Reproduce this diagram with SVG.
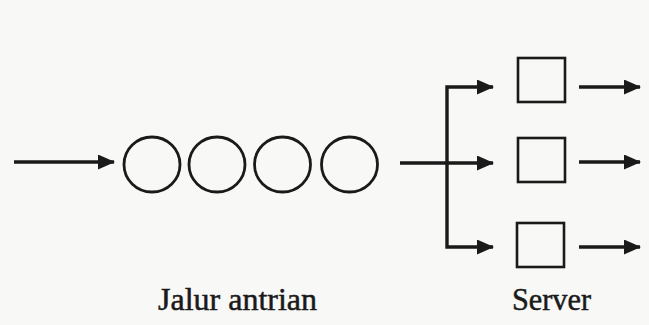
<svg xmlns="http://www.w3.org/2000/svg" width="649" height="325" viewBox="0 0 649 325">
<defs>
<style>
.bg{fill:#f8f8f7}
.q{fill:none;stroke:#1a1a1a;stroke-width:2.8}
.s{fill:none;stroke:#1a1a1a;stroke-width:2.6}
.c{fill:none;stroke:#1a1a1a;stroke-width:3.4}
.t{fill:#1a1a1a;stroke:#1a1a1a;stroke-width:0.5}
</style>
<marker id="ah" markerUnits="userSpaceOnUse" markerWidth="17" markerHeight="15" refX="16" refY="7.5" orient="auto" viewBox="0 0 17 15">
<path d="M0,0 L17,7.5 L0,15 z" fill="#1a1a1a"/>
</marker>
</defs>
<rect class="bg" x="0" y="0" width="649" height="325"/>
<g id="queue">
<ellipse id="q1" class="q" cx="152" cy="164.5" rx="28" ry="27.5"/>
<ellipse id="q2" class="q" cx="217" cy="164.5" rx="28" ry="27.5"/>
<ellipse id="q3" class="q" cx="282.5" cy="164.5" rx="28" ry="27.5"/>
<ellipse id="q4" class="q" cx="349.5" cy="164.5" rx="28" ry="27.5"/>
</g>
<g id="server1"><rect class="s" x="518" y="58" width="47" height="44"/></g>
<g id="server2"><rect class="s" x="518" y="138" width="47" height="44"/></g>
<g id="server3"><rect class="s" x="517" y="223" width="47" height="44"/></g>
<g id="connectors">
<line class="c" x1="14" y1="162" x2="114" y2="162" marker-end="url(#ah)"/>
<line class="c" x1="400" y1="163" x2="493" y2="163" marker-end="url(#ah)"/>
<path class="c" d="M447,163 V87 H493" marker-end="url(#ah)"/>
<path class="c" d="M447,163 V247 H493" marker-end="url(#ah)"/>
<line class="c" x1="579" y1="87" x2="640" y2="87" marker-end="url(#ah)"/>
<line class="c" x1="579" y1="162" x2="640" y2="162" marker-end="url(#ah)"/>
<line class="c" x1="579" y1="247" x2="640" y2="247" marker-end="url(#ah)"/>
</g>
<g id="labels" font-family="'Liberation Serif', 'Times New Roman', serif">
<text class="t" x="158" y="310" font-size="32" textLength="159" lengthAdjust="spacingAndGlyphs">Jalur antrian</text>
<text class="t" x="512" y="310" font-size="31" textLength="79" lengthAdjust="spacingAndGlyphs">Server</text>
</g>
</svg>
